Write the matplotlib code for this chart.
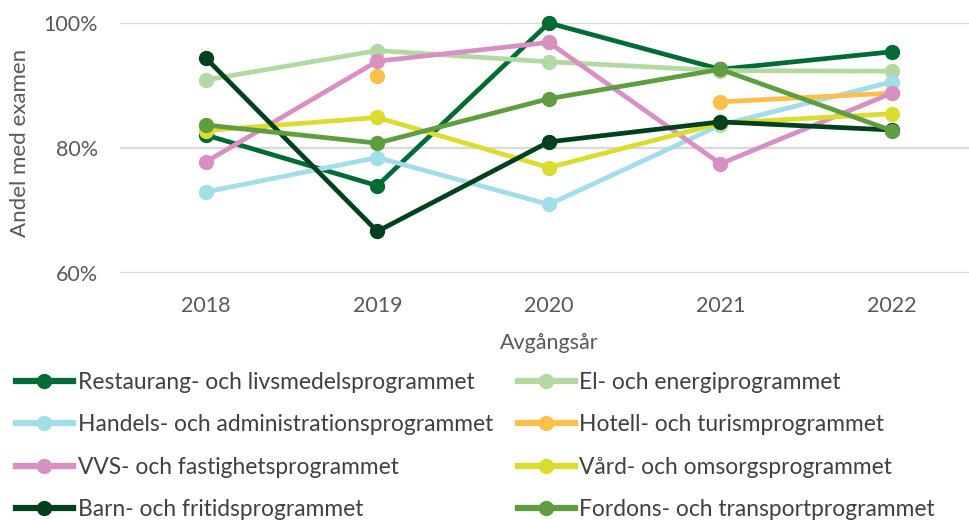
import numpy as np
import matplotlib
matplotlib.use("Agg")
import matplotlib.pyplot as plt
from matplotlib.lines import Line2D

years = ["2018", "2019", "2020", "2021", "2022"]

restaurang = [82.1, 74.0, 100.0, 92.6, 95.4]
el_energi = [90.9, 95.6, 93.8, 92.4, 92.3]
handels = [73.0, 78.5, 71.0, 83.7, 90.6]
hotell = [np.nan, 91.5, np.nan, 87.4, 88.8]
vvs = [77.8, 93.9, 96.9, 77.5, 88.8]
vard = [82.8, 84.9, 76.9, 84.0, 85.5]
barn = [94.4, 66.7, 81.0, 84.2, 82.9]
fordons = [83.7, 80.8, 87.9, 92.6, 82.8]

series_names = [
    "Restaurang- och livsmedelsprogrammet",
    "El- och energiprogrammet",
    "Handels- och administrationsprogrammet",
    "Hotell- och turismprogrammet",
    "VVS- och fastighetsprogrammet",
    "Vård- och omsorgsprogrammet",
    "Barn- och fritidsprogrammet",
    "Fordons- och transportprogrammet",
]
series_values = [restaurang, el_energi, handels, hotell, vvs, vard, barn, fordons]
colors = ["#006B35", "#B3D9A3", "#A2DDEA", "#FFC04A", "#D98FC2", "#DCDC2E", "#00401C", "#5E9E3E"]

plt.rcParams['font.family'] = ['Lato', 'DejaVu Sans']

W, H = 969, 520
fig = plt.figure(figsize=(W / 100, H / 100), dpi=100)
ax = fig.add_axes([120 / W, 1 - 273.3 / H, (969 - 120) / W, 250.3 / H])

x = np.arange(len(years))
for name, vals, c in zip(series_names, series_values, colors):
    v = np.array(vals, dtype=float) / 100.0
    ax.plot(x, v, color=c, lw=3.4, marker='o', markersize=10, label=name,
            clip_on=False, solid_capstyle='round', zorder=3)

ax.set_xlim(-0.5, (969 - 206) / 171.5)
ax.set_ylim(0.6, 1.0)
ax.set_yticks([0.6, 0.8, 1.0])
ax.set_yticklabels(["60%", "80%", "100%"])
ax.set_xticks(x)
ax.set_xticklabels(years)
ax.tick_params(axis='both', length=0, labelsize=15.5, colors="#595959", labelcolor="#595959")
ax.tick_params(axis='y', pad=16)
ax.tick_params(axis='x', pad=16)
for s in ax.spines.values():
    s.set_visible(False)
ax.grid(axis='y', color="#D9D9D9", lw=1.6, zorder=0)
ax.set_axisbelow(True)

fig.text(20 / W, 1 - 143 / H, "Andel med examen", rotation=90, ha='center', va='center',
         fontsize=16, color="#595959")
fig.text(549 / W, 1 - 343 / H, "Avgångsår", ha='center', va='center', fontsize=15.5, color="#595959")

order = [0, 2, 4, 6, 1, 3, 5, 7]
handles = [Line2D([], [], color=colors[i], lw=4.5, marker='o', markersize=10) for i in order]
labels = [series_names[i] for i in order]
leg = fig.legend(handles, labels, ncol=2, loc='upper left',
                 bbox_to_anchor=(16 / W, 1 - 372 / H), frameon=False,
                 fontsize=16.4, handlelength=2.5, handletextpad=0.2,
                 columnspacing=1.1, labelspacing=0.94, borderaxespad=0, borderpad=0)
for t in leg.get_texts():
    t.set_color("#404040")

fig.savefig("out.png", dpi=100)
